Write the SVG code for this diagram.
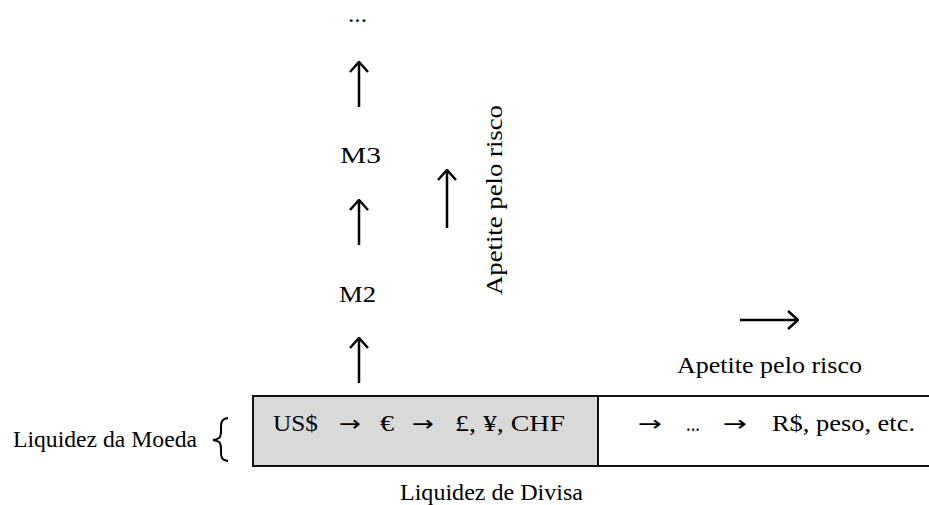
<svg xmlns="http://www.w3.org/2000/svg" width="929" height="505" viewBox="0 0 929 505">
<style>
text{font-family:"Liberation Serif","Times New Roman",serif;font-size:23px;fill:#000}
.t{font-family:"DejaVu Sans","Liberation Sans",sans-serif;font-size:21px}
.ar{fill:none;stroke:#000;stroke-width:2.5}
.bx{stroke:#111;stroke-width:2}
</style>
<defs>
<marker id="h" viewBox="0 0 12 20" refX="11" refY="10" markerWidth="12" markerHeight="20" markerUnits="userSpaceOnUse" orient="auto">
<path d="M1,1 L11,10 L1,19" fill="none" stroke="#000" stroke-width="2.5"/>
</marker>
</defs>
<rect width="929" height="505" fill="#fff"/>
<g id="box">
<rect x="253" y="396" width="345" height="70" fill="#d9d9d9"/>
<line class="bx" x1="253" y1="396" x2="929" y2="396"/>
<line class="bx" x1="253" y1="466" x2="929" y2="466"/>
<line class="bx" x1="253" y1="395" x2="253" y2="467"/>
<line class="bx" x1="598" y1="395" x2="598" y2="467"/>
<text x="273" y="431" textLength="45" lengthAdjust="spacingAndGlyphs">US$</text>
<text class="t" x="339" y="431" textLength="22" lengthAdjust="spacingAndGlyphs">→</text>
<text x="380" y="431" textLength="14" lengthAdjust="spacingAndGlyphs">€</text>
<text class="t" x="412" y="431" textLength="22" lengthAdjust="spacingAndGlyphs">→</text>
<text x="455" y="431" textLength="110" lengthAdjust="spacingAndGlyphs">£, ¥, CHF</text>
<text class="t" x="638" y="431" textLength="24" lengthAdjust="spacingAndGlyphs">→</text>
<text x="686" y="431" textLength="14" lengthAdjust="spacingAndGlyphs">...</text>
<text class="t" x="723" y="431" textLength="24" lengthAdjust="spacingAndGlyphs">→</text>
<text x="772" y="431" textLength="143" lengthAdjust="spacingAndGlyphs">R$, peso, etc.</text>
</g>
<g id="labels">
<text x="13" y="447" textLength="184" lengthAdjust="spacingAndGlyphs">Liquidez da Moeda</text>
<path d="M228,418 C220,419 221,425 221,431 C221,437 220,439 213,440 C220,441 221,443 221,449 C221,455 220,460 228,461" fill="none" stroke="#000" stroke-width="2"/>
<text x="400" y="500" textLength="183" lengthAdjust="spacingAndGlyphs">Liquidez de Divisa</text>
<text x="348" y="22" textLength="19" lengthAdjust="spacingAndGlyphs">...</text>
<text x="340" y="163" textLength="41" lengthAdjust="spacingAndGlyphs">M3</text>
<text x="339" y="302" textLength="37" lengthAdjust="spacingAndGlyphs">M2</text>
<text transform="translate(502,295) rotate(-90)" textLength="190" lengthAdjust="spacingAndGlyphs">Apetite pelo risco</text>
<text x="677" y="373" textLength="185" lengthAdjust="spacingAndGlyphs">Apetite pelo risco</text>
</g>
<g id="connectors">
<line class="ar" x1="359" y1="383" x2="359" y2="338" marker-end="url(#h)"/>
<line class="ar" x1="359" y1="245" x2="359" y2="200" marker-end="url(#h)"/>
<line class="ar" x1="359" y1="107" x2="359" y2="62" marker-end="url(#h)"/>
<line class="ar" x1="447" y1="228" x2="447" y2="170" marker-end="url(#h)"/>
<line class="ar" x1="740" y1="320" x2="798" y2="320" marker-end="url(#h)"/>
</g>
</svg>
